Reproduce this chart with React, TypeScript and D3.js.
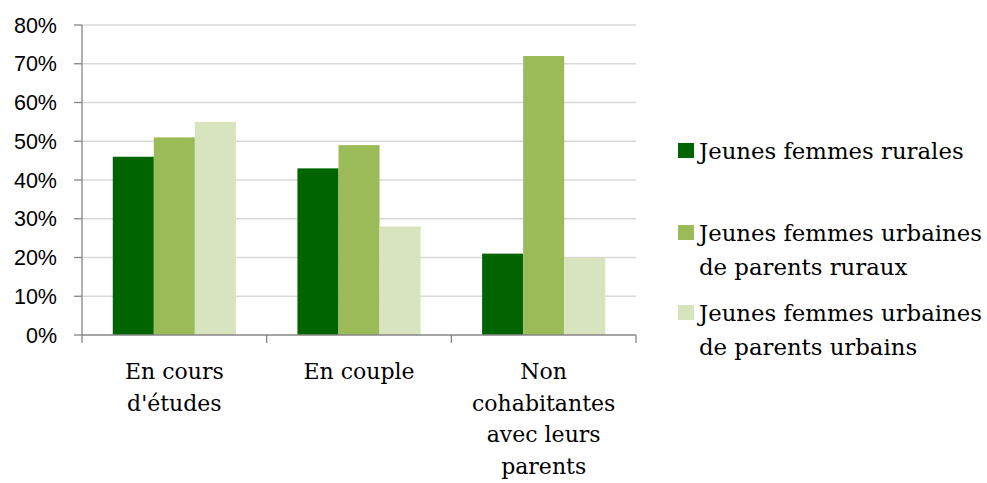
import { useEffect, useRef } from "react";
import * as d3 from "d3";

const categories = ["En cours\nd'études", "En couple", "Non\ncohabitantes\navec leurs\nparents"];
const seriesNames = [
  "Jeunes femmes rurales",
  "Jeunes femmes urbaines\nde parents ruraux",
  "Jeunes femmes urbaines\nde parents urbains",
];
const rurales = [46, 43, 21];
const urbainesRuraux = [51, 49, 72];
const urbainesUrbains = [55, 28, 20];
const yTicks = [0, 10, 20, 30, 40, 50, 60, 70, 80];
const colors = ["#006400", "#9bbb59", "#d7e4bd"];

export default function App() {
  const svgRef = useRef<SVGSVGElement>(null);

  useEffect(() => {
    if (!svgRef.current) return;
    const svg = d3.select(svgRef.current);
    svg.selectAll("*").remove();

    const width = 987;
    const height = 483;
    const margin = { top: 25, left: 82, right: 351, bottom: 148 };
    const innerW = width - margin.left - margin.right;
    const innerH = height - margin.top - margin.bottom;
    const serif = "DejaVu Serif";
    const sans = "Liberation Sans";

    const values = [rurales, urbainesRuraux, urbainesUrbains];

    const x0 = d3.scaleBand<number>().domain(d3.range(categories.length)).range([0, innerW]);
    const bw = x0.bandwidth();
    const x1 = d3
      .scaleBand<number>()
      .domain(d3.range(values.length))
      .range([bw / 6, (bw * 5) / 6]);
    const y = d3.scaleLinear().domain([0, 80]).range([innerH, 0]);

    const g = svg.append("g").attr("transform", `translate(${margin.left},${margin.top})`);

    // gridlines
    g.selectAll("line.grid")
      .data(yTicks.slice(1))
      .join("line")
      .attr("x1", 0)
      .attr("x2", innerW)
      .attr("y1", (d) => y(d))
      .attr("y2", (d) => y(d))
      .attr("stroke", "#d9d9d9")
      .attr("stroke-width", 1.3);

    // bars
    values.forEach((vals, si) => {
      g.selectAll(`rect.s${si}`)
        .data(vals)
        .join("rect")
        .attr("x", (_d, i) => x0(i)! + x1(si)!)
        .attr("y", (d) => y(d))
        .attr("width", x1.bandwidth())
        .attr("height", (d) => innerH - y(d))
        .attr("fill", colors[si]);
    });

    // y axis
    g.append("line")
      .attr("x1", 0)
      .attr("x2", 0)
      .attr("y1", 0)
      .attr("y2", innerH)
      .attr("stroke", "#868686")
      .attr("stroke-width", 1.3);
    g.selectAll("line.ytick")
      .data(yTicks)
      .join("line")
      .attr("x1", -8)
      .attr("x2", 0)
      .attr("y1", (d) => y(d))
      .attr("y2", (d) => y(d))
      .attr("stroke", "#868686")
      .attr("stroke-width", 1.3);
    g.selectAll("text.ylab")
      .data(yTicks)
      .join("text")
      .attr("x", -25)
      .attr("y", (d) => y(d))
      .attr("dy", "0.36em")
      .attr("text-anchor", "end")
      .attr("font-family", sans)
      .attr("font-size", 21.5)
      .attr("fill", "#000")
      .text((d) => `${d}%`);

    // x axis
    g.append("line")
      .attr("x1", 0)
      .attr("x2", innerW)
      .attr("y1", innerH)
      .attr("y2", innerH)
      .attr("stroke", "#868686")
      .attr("stroke-width", 1.3);
    g.selectAll("line.xtick")
      .data(d3.range(categories.length + 1))
      .join("line")
      .attr("x1", (i) => i * bw)
      .attr("x2", (i) => i * bw)
      .attr("y1", innerH)
      .attr("y2", innerH + 8)
      .attr("stroke", "#868686")
      .attr("stroke-width", 1.3);

    categories.forEach((c, i) => {
      const t = g
        .append("text")
        .attr("x", x0(i)! + bw / 2)
        .attr("y", innerH + 44)
        .attr("text-anchor", "middle")
        .attr("font-family", serif)
        .attr("font-size", 22)
        .attr("fill", "#000");
      c.split("\n").forEach((line, li) => {
        t.append("tspan")
          .attr("x", x0(i)! + bw / 2)
          .attr("dy", li === 0 ? 0 : 31.5)
          .text(line);
      });
    });

    // legend
    const legendY = [151, 233, 313];
    const legend = svg.append("g");
    seriesNames.forEach((name, i) => {
      legend
        .append("rect")
        .attr("x", 678)
        .attr("y", legendY[i] - 8)
        .attr("width", 16)
        .attr("height", 15)
        .attr("fill", colors[i]);
      const t = legend
        .append("text")
        .attr("x", 699)
        .attr("y", legendY[i] + 8)
        .attr("font-family", serif)
        .attr("font-size", 22.8)
        .attr("fill", "#000");
      name.split("\n").forEach((line, li) => {
        t.append("tspan")
          .attr("x", 699)
          .attr("dy", li === 0 ? 0 : 34)
          .text(line);
      });
    });
  }, []);

  return (
    <svg
      ref={svgRef}
      width={987}
      height={483}
      style={{ position: "absolute", left: 0, top: 0, background: "#fff" }}
    />
  );
}
